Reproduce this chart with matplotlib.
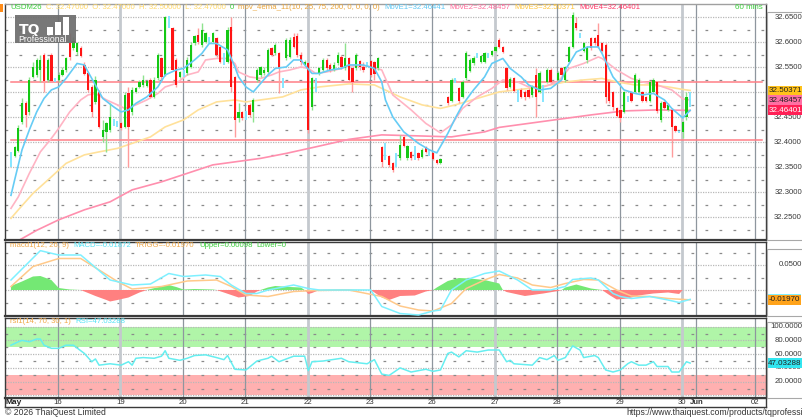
import numpy as np
import matplotlib
matplotlib.use('Agg')
import matplotlib.pyplot as plt
from matplotlib import transforms
from matplotlib.patches import Rectangle
from matplotlib.offsetbox import TextArea, HPacker, AnnotationBbox

plt.rcParams['font.family'] = ['Liberation Sans', 'DejaVu Sans']

# -----------------------
# DATA (60 min bars)
# -----------------------
opens = [32.370, 32.373, 32.383, 32.440, 32.478, 32.460, 32.530, 32.535, 32.545, 32.575,
         32.525, 32.575, 32.525, 32.525, 32.535, 32.545, 32.598, 32.588, 32.580, 32.588,
         32.555, 32.538, 32.510, 32.480, 32.500, 32.410, 32.420, 32.425, 32.440, 32.437,
         32.438, 32.430, 32.498, 32.460, 32.500, 32.510, 32.515, 32.512, 32.525, 32.490,
         32.528, 32.568, 32.535, 32.635, 32.628, 32.565, 32.530, 32.535, 32.538, 32.550,
         32.598, 32.615, 32.595, 32.600, 32.605, 32.600, 32.608, 32.590, 32.565, 32.560,
         32.630, 32.530, 32.448, 32.460, 32.452, 32.475, 32.460, 32.525, 32.535, 32.538,
         32.540, 32.588, 32.578, 32.578, 32.520, 32.568, 32.570, 32.610, 32.612, 32.575,
         32.555, 32.558, 32.470, 32.520, 32.538, 32.545, 32.565, 32.555, 32.545, 32.558,
         32.570, 32.548, 32.568, 32.548, 32.548, 32.562, 32.550, 32.555, 32.562, 32.560,
         32.548, 32.390, 32.380, 32.372, 32.358, 32.365, 32.368, 32.410, 32.368, 32.380,
         32.378, 32.378, 32.370, 32.390, 32.378, 32.378, 32.365, 32.359, None, 32.490,
         32.482, 32.522, 32.508, 32.490, 32.528, 32.542, 32.558, 32.572, 32.560, 32.560,
         32.575, 32.575, 32.582, 32.605, 32.590, 32.548, 32.510, 32.528, 32.490, 32.505,
         32.500, 32.505, 32.495, 32.535, 32.500, 32.500, 32.520, 32.545, None, 32.525,
         32.548, 32.525, 32.560, 32.590, 32.638, 32.612, 32.582, 32.565, 32.608, 32.608,
         32.615, 32.598, 32.595, 32.520, 32.500, 32.468, 32.465, 32.460, 32.488, 32.500,
         32.500, 32.500, 32.500, 32.490, 32.482, 32.500, 32.520, 32.445, 32.480, 32.465,
         32.465, 32.432, 32.420, 32.420, 32.450, 32.470]
highs = [32.381, 32.392, 32.434, 32.488, 32.482, 32.530, 32.560, 32.568, 32.575, 32.578,
         32.568, 32.578, 32.528, 32.540, 32.550, 32.570, 32.618, 32.610, 32.600, 32.592,
         32.560, 32.540, 32.515, 32.532, 32.505, 32.445, 32.440, 32.478, 32.446, 32.442,
         32.440, 32.500, 32.510, 32.510, 32.510, 32.525, 32.535, 32.525, 32.528, 32.530,
         32.578, 32.570, 32.652, 32.652, 32.630, 32.568, 32.542, 32.545, 32.570, 32.600,
         32.615, 32.628, 32.638, 32.620, 32.610, 32.620, 32.610, 32.595, 32.578, 32.630,
         32.650, 32.532, 32.478, 32.462, 32.462, 32.478, 32.488, 32.548, 32.553, 32.550,
         32.588, 32.590, 32.598, 32.580, 32.528, 32.608, 32.610, 32.618, 32.618, 32.580,
         32.565, 32.560, 32.530, 32.528, 32.550, 32.568, 32.568, 32.558, 32.560, 32.580,
         32.575, 32.598, 32.570, 32.550, 32.578, 32.565, 32.560, 32.560, 32.565, 32.562,
         32.570, 32.392, 32.398, 32.375, 32.360, 32.378, 32.415, 32.412, 32.395, 32.382,
         32.392, 32.380, 32.388, 32.392, 32.385, 32.380, 32.367, 32.368, None, 32.492,
         32.528, 32.528, 32.510, 32.525, 32.582, 32.568, 32.572, 32.578, 32.575, 32.580,
         32.578, 32.585, 32.592, 32.608, 32.592, 32.550, 32.530, 32.530, 32.505, 32.508,
         32.505, 32.508, 32.515, 32.548, 32.542, 32.515, 32.548, 32.548, None, 32.542,
         32.550, 32.553, 32.593, 32.660, 32.650, 32.618, 32.600, 32.593, 32.610, 32.610,
         32.638, 32.600, 32.598, 32.522, 32.502, 32.470, 32.468, 32.502, 32.492, 32.502,
         32.538, 32.528, 32.502, 32.492, 32.522, 32.528, 32.522, 32.482, 32.482, 32.478,
         32.468, 32.435, 32.422, 32.442, 32.500, 32.500]
lows = [32.351, 32.370, 32.380, 32.437, 32.431, 32.455, 32.528, 32.530, 32.520, 32.500,
        32.520, 32.520, 32.520, 32.520, 32.532, 32.540, 32.565, 32.585, 32.575, 32.570,
        32.535, 32.500, 32.450, 32.476, 32.428, 32.400, 32.381, 32.420, 32.432, 32.430,
        32.425, 32.428, 32.351, 32.455, 32.498, 32.508, 32.510, 32.510, 32.488, 32.488,
        32.525, 32.525, 32.533, 32.628, 32.545, 32.510, 32.528, 32.530, 32.535, 32.548,
        32.595, 32.597, 32.590, 32.598, 32.598, 32.598, 32.570, 32.558, 32.555, 32.558,
        32.500, 32.410, 32.440, 32.445, 32.445, 32.450, 32.440, 32.520, 32.530, 32.535,
        32.535, 32.572, 32.575, 32.498, 32.508, 32.565, 32.568, 32.588, 32.570, 32.555,
        32.552, 32.418, 32.465, 32.500, 32.535, 32.542, 32.545, 32.540, 32.542, 32.555,
        32.547, 32.545, 32.520, 32.500, 32.545, 32.545, 32.540, 32.550, 32.530, 32.525,
        32.545, 32.351, 32.365, 32.351, 32.341, 32.351, 32.365, 32.390, 32.365, 32.365,
        32.365, 32.365, 32.368, 32.378, 32.372, 32.365, 32.357, 32.357, None, 32.475,
        32.480, 32.518, 32.478, 32.488, 32.525, 32.540, 32.555, 32.568, 32.558, 32.558,
        32.568, 32.572, 32.580, 32.588, 32.578, 32.505, 32.508, 32.500, 32.480, 32.488,
        32.485, 32.488, 32.490, 32.450, 32.498, 32.480, 32.518, 32.518, None, 32.522,
        32.532, 32.520, 32.558, 32.588, 32.625, 32.608, 32.580, 32.558, 32.585, 32.595,
        32.588, 32.580, 32.478, 32.478, 32.465, 32.450, 32.440, 32.458, 32.480, 32.480,
        32.498, 32.498, 32.480, 32.480, 32.480, 32.498, 32.458, 32.440, 32.465, 32.462,
        32.371, 32.420, 32.418, 32.408, 32.445, 32.470]
closes = [32.370, 32.390, 32.428, 32.478, 32.455, 32.525, 32.550, 32.565, 32.565, 32.522,
          32.565, 32.522, 32.525, 32.535, 32.545, 32.568, 32.570, 32.602, 32.598, 32.572,
          32.537, 32.505, 32.460, 32.525, 32.430, 32.425, 32.438, 32.450, 32.440, 32.437,
          32.428, 32.495, 32.430, 32.505, 32.508, 32.520, 32.525, 32.522, 32.490, 32.525,
          32.575, 32.530, 32.650, 32.635, 32.545, 32.515, 32.540, 32.535, 32.565, 32.595,
          32.612, 32.600, 32.625, 32.618, 32.605, 32.618, 32.575, 32.560, 32.565, 32.625,
          32.510, 32.445, 32.460, 32.448, 32.452, 32.455, 32.485, 32.545, 32.550, 32.545,
          32.585, 32.575, 32.595, 32.548, 32.520, 32.605, 32.605, 32.590, 32.575, 32.560,
          32.560, 32.425, 32.528, 32.520, 32.548, 32.565, 32.548, 32.545, 32.555, 32.575,
          32.550, 32.568, 32.525, 32.520, 32.575, 32.550, 32.545, 32.555, 32.535, 32.537,
          32.568, 32.360, 32.380, 32.355, 32.345, 32.365, 32.395, 32.392, 32.392, 32.368,
          32.378, 32.368, 32.385, 32.380, 32.378, 32.366, 32.359, 32.366, None, 32.478,
          32.525, 32.522, 32.482, 32.520, 32.578, 32.565, 32.568, 32.572, 32.572, 32.578,
          32.575, 32.582, 32.590, 32.590, 32.580, 32.508, 32.527, 32.502, 32.490, 32.490,
          32.490, 32.490, 32.512, 32.490, 32.538, 32.500, 32.545, 32.520, None, 32.538,
          32.535, 32.550, 32.590, 32.655, 32.628, 32.612, 32.598, 32.590, 32.588, 32.598,
          32.590, 32.582, 32.490, 32.482, 32.470, 32.452, 32.448, 32.500, 32.488, 32.482,
          32.535, 32.525, 32.482, 32.482, 32.520, 32.525, 32.462, 32.478, 32.468, 32.475,
          32.430, 32.422, 32.420, 32.440, 32.490, 32.470]

# moving averages (EMA 10 / 25 / 75 / 200), sampled along the bars
ma1_bar = [0, 1, 3, 5, 7, 9, 11, 13, 15, 17, 18, 20, 21, 23, 25, 28, 30, 32, 34, 37, 40, 42, 45,
           47, 50, 52, 54, 56, 59, 61, 62, 64, 66, 68, 70, 72, 75, 77, 79, 80, 82, 84, 87, 90,
           92, 96, 99, 101, 102, 104, 107, 111, 114, 116, 119, 121, 123, 126, 129, 131, 134,
           136, 139, 141, 144, 147, 150, 151, 154, 157, 160, 161, 164, 167, 170, 172, 175, 178,
           180, 183, 185]
ma1_val = [32.294, 32.325, 32.385, 32.425, 32.461, 32.488, 32.505, 32.511, 32.528, 32.548,
           32.558, 32.555, 32.541, 32.515, 32.488, 32.471, 32.461, 32.465, 32.478, 32.491,
           32.511, 32.535, 32.545, 32.548, 32.565, 32.578, 32.598, 32.598, 32.585, 32.551,
           32.531, 32.511, 32.501, 32.518, 32.535, 32.548, 32.551, 32.565, 32.565, 32.555,
           32.538, 32.538, 32.545, 32.548, 32.555, 32.555, 32.548, 32.521, 32.485, 32.451,
           32.421, 32.398, 32.385, 32.379, 32.418, 32.448, 32.475, 32.505, 32.531, 32.558,
           32.568, 32.548, 32.531, 32.515, 32.505, 32.508, 32.525, 32.545, 32.581, 32.591,
           32.591, 32.578, 32.531, 32.505, 32.498, 32.495, 32.498, 32.485, 32.468, 32.449,
           32.464]
ma2_bar = [0, 2, 5, 8, 11, 13, 16, 19, 21, 23, 26, 29, 31, 34, 37, 40, 42, 45, 48, 51, 53, 56,
           59, 61, 62, 65, 68, 71, 73, 76, 79, 81, 83, 86, 90, 92, 97, 101, 104, 109, 113, 117,
           120, 123, 127, 131, 134, 138, 141, 145, 149, 152, 156, 160, 161, 165, 169, 172, 176,
           180, 183, 185]
ma2_val = [32.268, 32.291, 32.338, 32.381, 32.408, 32.428, 32.461, 32.485, 32.495, 32.498,
           32.485, 32.475, 32.468, 32.475, 32.485, 32.498, 32.511, 32.518, 32.535, 32.541,
           32.565, 32.568, 32.568, 32.558, 32.541, 32.531, 32.528, 32.535, 32.541, 32.545,
           32.551, 32.548, 32.538, 32.541, 32.548, 32.553, 32.553, 32.545, 32.495, 32.465,
           32.438, 32.419, 32.435, 32.468, 32.491, 32.508, 32.525, 32.521, 32.511, 32.511,
           32.521, 32.548, 32.558, 32.571, 32.568, 32.545, 32.528, 32.521, 32.515, 32.505,
           32.487, 32.485]
ma3_bar = [0, 2, 6, 11, 15, 20, 24, 29, 33, 38, 42, 47, 51, 56, 61, 64, 68, 74, 79, 84, 92, 99,
           106, 112, 117, 121, 127, 133, 141, 147, 151, 156, 161, 165, 170, 174, 179, 183, 185]
ma3_val = [32.248, 32.265, 32.298, 32.331, 32.358, 32.375, 32.381, 32.388, 32.398, 32.411,
           32.431, 32.445, 32.465, 32.481, 32.485, 32.481, 32.485, 32.491, 32.505, 32.511,
           32.517, 32.515, 32.491, 32.475, 32.468, 32.475, 32.488, 32.501, 32.508, 32.515,
           32.521, 32.525, 32.528, 32.521, 32.515, 32.515, 32.511, 32.506, 32.504]
ma4_bar = [0, 7, 13, 20, 27, 33, 41, 48, 55, 61, 68, 75, 83, 92, 101, 111, 120, 129, 133, 148,
           158, 167, 176, 185]
ma4_val = [32.195, 32.224, 32.245, 32.265, 32.281, 32.305, 32.321, 32.338, 32.355, 32.361,
           32.368, 32.378, 32.391, 32.406, 32.415, 32.413, 32.411, 32.421, 32.430, 32.445,
           32.455, 32.463, 32.465, 32.464]
hlines_price = [32.520, 32.405]

# MACD(12, 26, 9)
macd_bar = [0, 8, 13, 19, 27, 33, 38, 43, 47, 53, 57, 60, 64, 67, 70, 77, 81, 84, 92, 98, 101,
            106, 111, 115, 117, 120, 124, 129, 133, 138, 142, 147, 151, 153, 158, 160, 164, 166,
            169, 174, 179, 182, 185]
macd_val = [0.020, 0.0787, 0.070, 0.070, 0.020, 0.010, 0.012, 0.033, 0.027, 0.030, 0.027,
            0.010, -0.007, -0.007, 0.000, 0.010, 0.003, 0.000, 0.000, 0.000, -0.033, -0.047,
            -0.050, -0.042, -0.040, 0.000, 0.020, 0.033, 0.038, 0.020, 0.000, 0.000, 0.007,
            0.021, 0.024, 0.020, -0.007, -0.013, -0.017, -0.013, -0.020, -0.025, -0.0187]
trig_bar = [0, 6, 13, 19, 24, 29, 33, 41, 48, 56, 60, 64, 70, 77, 83, 92, 101, 106, 111, 115,
            120, 124, 129, 133, 138, 142, 147, 151, 156, 160, 165, 169, 174, 179, 185]
trig_val = [0.007, 0.047, 0.063, 0.063, 0.040, 0.017, 0.002, 0.007, 0.018, 0.020, 0.007,
            -0.010, -0.013, -0.003, -0.001, 0.000, -0.013, -0.032, -0.040, -0.042, -0.027,
            0.003, 0.020, 0.031, 0.024, 0.010, 0.005, 0.013, 0.021, 0.020, 0.000, -0.012,
            -0.013, -0.017, -0.0197]
hist_bar = [0, 3, 6, 8, 11, 13, 16, 19, 20, 23, 26, 27, 29, 32, 35, 37, 38, 41, 43, 45, 47, 50,
            55, 56, 58, 60, 62, 65, 67, 68, 70, 72, 76, 79, 80, 81, 82, 84, 90, 98, 99, 101, 103,
            106, 110, 113, 115, 116, 119, 122, 125, 129, 133, 134, 135, 140, 145, 149, 150, 151,
            154, 158, 161, 163, 165, 168, 171, 175, 179, 182, 183]
hist_val = [0.008, 0.017, 0.027, 0.028, 0.020, 0.004, 0.001, 0.000, -0.003, -0.012, -0.020,
            -0.023, -0.020, -0.015, -0.005, 0.000, 0.002, 0.007, 0.010, 0.006, 0.001, 0.002,
            0.001, 0.000, -0.005, -0.010, -0.015, -0.012, -0.003, 0.000, 0.005, 0.008, 0.006,
            0.005, 0.000, -0.008, -0.006, 0.000, 0.001, 0.000, -0.005, -0.015, -0.020, -0.012,
            -0.011, -0.003, 0.000, 0.005, 0.018, 0.024, 0.023, 0.020, 0.013, 0.000, -0.004,
            -0.012, -0.007, -0.002, 0.000, 0.005, 0.011, 0.003, 0.000, -0.010, -0.019, -0.017,
            -0.011, -0.007, -0.005, -0.008, 0.000]

# RSI(14)
rsi_bar = [0, 2, 3, 5, 7, 8, 9, 11, 13, 15, 17, 20, 22, 23, 24, 27, 30, 32, 33, 34, 36, 39, 41,
           42, 43, 46, 48, 50, 53, 56, 58, 59, 61, 64, 67, 70, 71, 73, 77, 80, 81, 82, 85, 90,
           92, 97, 99, 101, 103, 106, 109, 113, 115, 117, 119, 120, 122, 124, 127, 130, 133,
           135, 136, 137, 142, 144, 146, 148, 149, 151, 153, 155, 156, 159, 160, 162, 164, 166,
           168, 169, 171, 173, 175, 176, 179, 180, 182, 184, 185]
rsi_val = [73, 78, 80, 78, 82, 82, 73, 68.5, 68.5, 73, 73, 61, 49, 53, 44, 46, 44, 49, 44, 54,
           55, 54, 57, 65, 54, 51, 54, 58, 59, 55, 52, 58, 38, 37, 50, 54, 57, 49, 57, 57, 36,
           49, 50, 54, 49, 46, 52, 31, 29, 40, 34, 38, 35, 37, 61, 63, 56, 65, 63, 66, 66, 49,
           51, 46, 44, 55, 52, 58, 51, 55, 72, 66, 55, 58, 55, 37, 34, 37, 46, 49, 44, 44, 49,
           42, 42, 34, 34, 49, 47.03]

# date axis
day_bars = [12.8, 29.8, 46.8, 63.8, 80.8, 97.8, 114.8, 131.8, 148.8, 165.8, 182.8, 186.7, 202.8]
day_labels = ['16', '19', '20', '21', '22', '23', '26', '27', '28', '29', '30', 'Jun', '02']

# -----------------------
# LAYOUT (pixel boxes)
# -----------------------
W, H = 803, 419
fig = plt.figure(figsize=(W / 100, H / 100), dpi=100)
fig.patch.set_facecolor('white')


def box(l, t, r, b):
    return [l / W, 1 - b / H, (r - l) / W, (b - t) / H]


ax_p = fig.add_axes(box(5, 4, 766, 240))
ax_m = fig.add_axes(box(5, 242, 766, 316))
ax_r = fig.add_axes(box(5, 318, 766, 398))
ax_d = fig.add_axes(box(5, 398, 766, 407))

XL = (-1.63, 205.67)
for ax in (ax_p, ax_m, ax_r, ax_d):
    ax.set_xlim(*XL)
    ax.set_xticks([])
    ax.set_yticks([])
    for s in ax.spines.values():
        s.set_color('#3a3a3a')
        s.set_linewidth(1.0)

ax_p.set_ylim(32.2046, 32.677)
ax_m.set_ylim(-0.052, 0.096)
ax_r.set_ylim(-3.8, 112.6)
ax_d.set_ylim(0, 1)
ax_p.spines['top'].set_color('#a0a0a0')
for ax in (ax_p, ax_m, ax_r):
    ax.spines['bottom'].set_linewidth(1.6)


def hgrid(ax, major, minor):
    for v in major:
        ax.axhline(v, color='#b8b8b8', lw=0.9, ls=(0, (1, 1)), zorder=0.6)
    for v in minor:
        ax.axhline(v, color='#8a8a8a', lw=0.9, ls=(0, (2.2, 9)), zorder=0.6)


hgrid(ax_p, np.arange(32.25, 32.66, 0.05), np.arange(32.225, 32.66, 0.05))
hgrid(ax_m, [0.05, 0.0], [0.075, 0.025, -0.025])

ax_r.axhspan(70, 100, color='#b0f5a8', lw=0, zorder=0.2)
ax_r.axhspan(0, 30, color='#ffb0b0', lw=0, zorder=0.2)
hgrid(ax_r, [0, 20, 40, 60, 80, 100], [10, 30, 50, 70, 90])

# day separators
light_days = ['19', '22', '27', '30']
for ax in (ax_p, ax_m, ax_r):
    for pos, lab in zip(day_bars, day_labels):
        if lab in light_days:
            ax.axvline(pos, color='#c4c9ce', lw=2.0, zorder=0.7)
        else:
            ax.axvline(pos, color='#8e969e', lw=0.9, zorder=0.7)

# -----------------------
# PRICE PANEL
# -----------------------
o, hi, lo, c = (np.array(a, dtype=float) for a in (opens, highs, lows, closes))
idx = np.arange(len(o))
up, dn, flat = c > o, c < o, c == o

for v in hlines_price:
    ax_p.axhline(v, xmin=0.008, xmax=0.995, color='#ff7f86', lw=1.1, zorder=1)

ax_p.plot(ma4_bar, ma4_val, color='#ff8fae', lw=1.2, zorder=2)
ax_p.plot(ma3_bar, ma3_val, color='#ffe19a', lw=1.2, zorder=2)
ax_p.plot(ma2_bar, ma2_val, color='#ffb4c4', lw=1.2, zorder=2)

ax_p.vlines(idx[up], lo[up], hi[up], color='#8ee38e', lw=1.0, zorder=3)
ax_p.vlines(idx[dn], lo[dn], hi[dn], color='#ff9c9c', lw=1.0, zorder=3)
ax_p.vlines(idx[flat], lo[flat], hi[flat], color='#86e6ff', lw=1.4, zorder=3)
ax_p.bar(idx[up], (c - o)[up], bottom=o[up], width=0.62, color='#14c814', lw=0, zorder=4)
ax_p.bar(idx[dn], (o - c)[dn], bottom=c[dn], width=0.62, color='#ff1414', lw=0, zorder=4)

ax_p.plot(ma1_bar, ma1_val, color='#66ccf5', lw=1.2, zorder=5)

# -----------------------
# MACD PANEL
# -----------------------
hb, hv = np.array(hist_bar), np.array(hist_val)
ax_m.fill_between(hb, hv, 0, where=hv >= 0, interpolate=True, color='#74e874', lw=0, zorder=1)
ax_m.fill_between(hb, hv, 0, where=hv <= 0, interpolate=True, color='#ff8080', lw=0, zorder=1)
ax_m.plot(trig_bar, trig_val, color='#ffc98a', lw=1.1, zorder=2)
ax_m.plot(macd_bar, macd_val, color='#7ef0ff', lw=1.1, zorder=3)

# -----------------------
# RSI PANEL
# -----------------------
ax_r.plot(rsi_bar, rsi_val, color='#66eef0', lw=1.1, zorder=3)

# -----------------------
# RIGHT SCALES + VALUE TAGS
# -----------------------
for l, t, b in [(767, 12, 240), (767, 249, 316), (767, 322, 398)]:
    fig.add_artist(Rectangle((l / W, 1 - b / H), 40 / W, (b - t) / H, transform=fig.transFigure,
                             fc='none', ec='#a8a8a8', lw=0.8))


def right_labels(ax, vals, fmt):
    tr = transforms.blended_transform_factory(fig.transFigure, ax.transData)
    for v in vals:
        ax.text(802 / W, v, fmt.format(v), transform=tr, ha='right', va='center',
                fontsize=5.6, color='#3a3a3a')


right_labels(ax_p, np.arange(32.25, 32.66, 0.05), '{:.4f}')
right_labels(ax_m, [0.05], '{:.4f}')
right_labels(ax_r, [20, 40, 60, 80, 100], '{:.4f}')


def tag(ax, v, txt, fc, tc='#202020'):
    tr = transforms.blended_transform_factory(ax.transAxes, ax.transData)
    ax.text(1.003, v, txt, transform=tr, ha='left', va='center', fontsize=5.8, color=tc,
            zorder=10, bbox=dict(boxstyle='square,pad=0.18', fc=fc, ec='none'))


tag(ax_p, 32.46441, '32.46441', '#66ccf5')
tag(ax_p, 32.470, '32.47000', '#ffd84a')
tag(ax_p, 32.50371, '32.50371', '#ffc21a')
tag(ax_p, 32.48457, '32.48457', '#ff6fa3')
tag(ax_p, 32.46401, '32.46401', '#ff1f55', 'white')
tag(ax_m, -0.01872, '-0.01872', '#7ef0ff')
tag(ax_m, -0.01970, '-0.01970', '#ffa31a')
tag(ax_r, 47.03288, '47.03288', '#33e6f0')

# -----------------------
# DATE STRIP
# -----------------------
ax_d.text(-1.4, 0.45, 'May', fontsize=6, fontweight='bold', color='#222', ha='left', va='center')
for pos, lab in zip(day_bars, day_labels):
    ax_d.text(pos, 0.45, lab, fontsize=5.6, color='#333', ha='center', va='center',
              fontweight='bold' if lab == 'Jun' else 'normal')

# -----------------------
# TITLES
# -----------------------


def colored_line(parts, x, y, size):
    kids = [TextArea(t, textprops=dict(color=col, fontsize=size)) for t, col in parts]
    pack = HPacker(children=kids, align='baseline', pad=0, sep=3)
    ab = AnnotationBbox(pack, (x, H - y), xycoords='figure pixels', box_alignment=(0, 0.5),
                        frameon=False, pad=0)
    fig.add_artist(ab)


colored_line([('USDM26', '#3ccf3c'),
              ('C: 32.47000  O: 32.47000  H: 32.50000  L: 32.47000', '#ffd96a'),
              ('0', '#3ccf3c'),
              ('mov_4ema_11(10, 25, 75, 200, 0, 0, 0, 0)', '#e9a43a'),
              ('MovE1=32.46441', '#5fc8f5'),
              ('MovE2=32.48457', '#ff6b9b'),
              ('MovE3=32.50371', '#ffc53a'),
              ('MovE4=32.46401', '#ff3565')], 10, 7.5, 5.6)
fig.text(735 / W, 1 - 7.5 / H, '60 mins', fontsize=5.8, color='#3ccf3c', va='center')
colored_line([('macd1(12, 26, 9)', '#f0a94a'),
              ('MACD=-0.01872', '#55e3f5'),
              ('TRIGG=-0.01970', '#f0a94a'),
              ('Upper=0.00098', '#3ccf3c'),
              ('Lower=0', '#3ccf3c')], 10, 245.5, 5.6)
colored_line([('rsi1(14, 70, 30, 1)', '#f0a94a'),
              ('RSI=47.03288', '#55e3f5')], 10, 321.5, 5.6)

fig.add_artist(Rectangle((0, 1 - 12 / H), 3 / W, 8 / H, transform=fig.transFigure,
                         fc='#ff8c1a', ec='none'))

# logo
fig.add_artist(Rectangle((15 / W, 1 - 43 / H), 61 / W, 28 / H, transform=fig.transFigure,
                         fc='#6c6c6c', ec='none', alpha=0.92, zorder=20))
fig.text(19 / W, 1 - 30.5 / H, 'TQ', fontsize=10, fontweight='bold', color='white',
         va='center', family='DejaVu Sans', zorder=21)
for bx, bt in [(47, 27), (55, 22), (63, 17)]:
    fig.add_artist(Rectangle((bx / W, 1 - 35 / H), 6 / W, (35 - bt) / H,
                             transform=fig.transFigure, fc='white', ec='none', zorder=21))
fig.text(18 / W, 1 - 40 / H, 'Professional', fontsize=6.3, color='white', va='center',
         zorder=21)

# footer
fig.text(5 / W, 1 - 412.5 / H, '\u00a9 2026 ThaiQuest Limited', fontsize=6.2, color='#333',
         va='center')
fig.text(626 / W, 1 - 412.5 / H, 'https://www.thaiquest.com/products/tqprofessional',
         fontsize=6.2, color='#333', va='center')

fig.savefig('out.png', dpi=100)
